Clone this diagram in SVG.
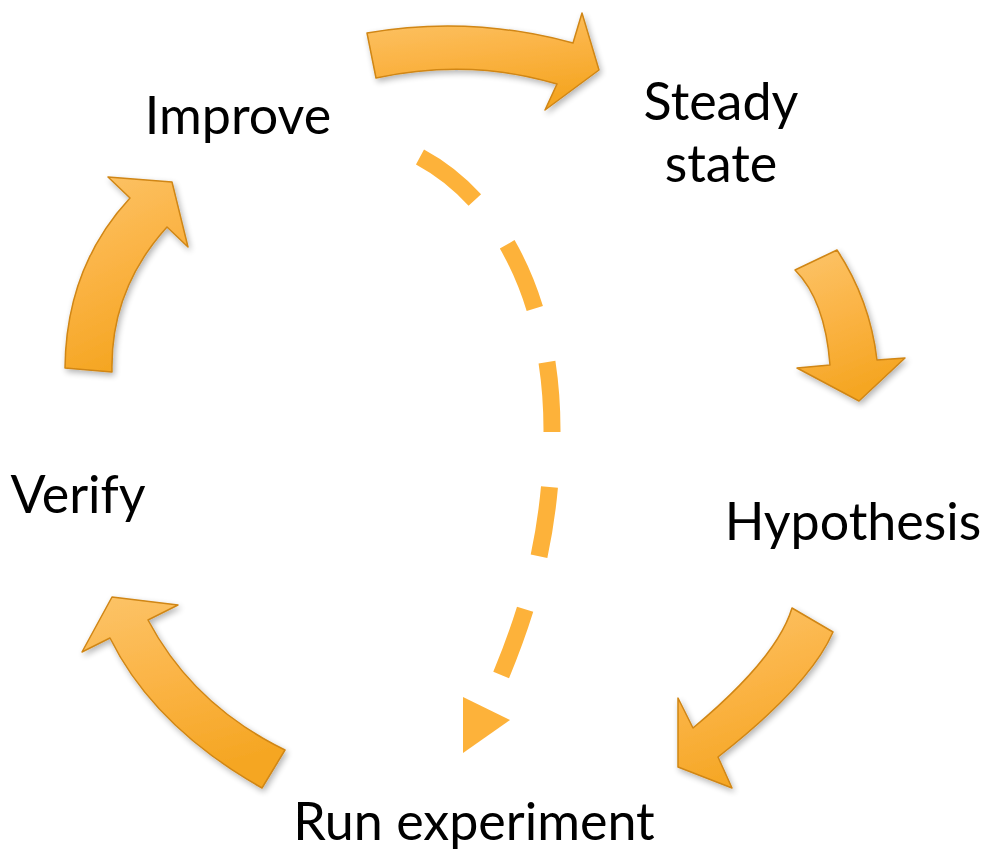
<svg xmlns="http://www.w3.org/2000/svg" width="987" height="853" viewBox="0 0 987 853">
  <defs>
    <linearGradient id="gold" x1="0" y1="0" x2="0.3" y2="1">
      <stop offset="0" stop-color="#FCC469"/>
      <stop offset="0.5" stop-color="#FBB446"/>
      <stop offset="1" stop-color="#F5A623"/>
    </linearGradient>
    <filter id="shadow" x="-20%" y="-20%" width="140%" height="140%">
      <feGaussianBlur in="SourceAlpha" stdDeviation="3"/>
      <feOffset dx="2" dy="3" result="b"/>
      <feComponentTransfer><feFuncA type="linear" slope="0.3"/></feComponentTransfer>
      <feMerge><feMergeNode/><feMergeNode in="SourceGraphic"/></feMerge>
    </filter>
  </defs>
  <style>
    .lbl { font-family: Lato, "Open Sans", "Liberation Sans", sans-serif; font-size: 52px; fill: #000; text-anchor: middle; }
    .blk { fill: url(#gold); stroke: #D08614; stroke-width: 1.5; stroke-linejoin: round; filter: url(#shadow); }
    .dash { fill: none; stroke: #FDB23A; stroke-width: 17; stroke-dasharray: 70 55; }
    .head { fill: #FDB23A; }
  </style>
  <rect width="987" height="853" fill="#fff"/>

  <g id="connectors">
    <path class="blk" d="M367,33 Q470,15 573,43 L582,13 L599,70 L545,110 L557,84 Q470,58 376,78 Z"/>
    <path class="blk" d="M795,270 L837,250 Q870,300 877,360 L905,358 L859,401 L797,368 L830,365 Q825,300 795,270 Z"/>
    <path class="blk" d="M792,608 L833,632 Q810,685 718,757 L732,788 L678,767 L678,698 L693,728 Q777,658 792,608 Z"/>
    <path class="blk" d="M112,597 L178,605 L148,620 Q193,705 285,750 L262,788 Q154,727 110,638 L82,652 Z"/>
    <path class="blk" d="M65,368 Q66,267 130,198 L108,177 L172,182 L188,247 L167,227 Q110,290 112,372 Z"/>
    <path class="dash" d="M420,157 C500,200 552,300 552,430 C552,540 525,620 494,692"/>
    <polygon class="head" points="463,697 510,720 463,753"/>
  </g>

  <g id="improve"><text class="lbl" x="238" y="134">Improve</text></g>
  <g id="steady-state"><text class="lbl" x="721" y="120">Steady</text><text class="lbl" x="721" y="182">state</text></g>
  <g id="hypothesis"><text class="lbl" x="853" y="540">Hypothesis</text></g>
  <g id="run-experiment"><text class="lbl" x="474" y="840">Run experiment</text></g>
  <g id="verify"><text class="lbl" x="78" y="513">Verify</text></g>
</svg>
